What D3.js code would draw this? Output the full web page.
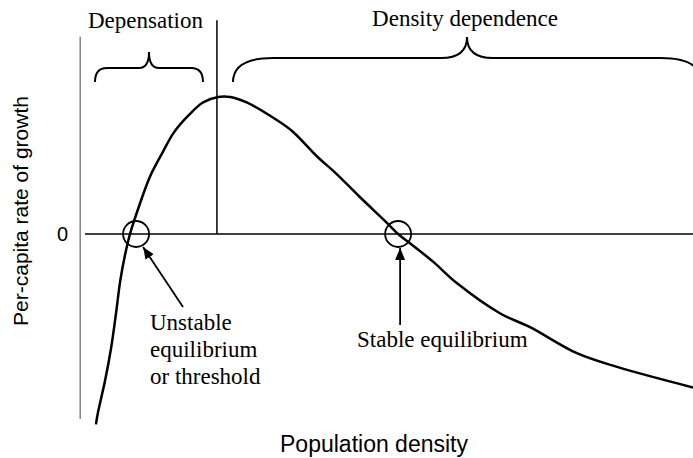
<!DOCTYPE html>
<html>
<head>
<meta charset="utf-8">
<script src="https://cdn.jsdelivr.net/npm/d3@7"></script>
<style>
  html, body { margin: 0; padding: 0; background: #fff; }
  svg { display: block; }
</style>
</head>
<body>
<svg id="chart" width="693" height="458"></svg>
<script>
// population density (arbitrary units)
const densityX = [0.18, 0.21, 0.33, 0.43, 0.51, 0.58, 0.66, 0.74, 0.91, 1.07, 1.27, 1.46, 1.69, 1.94,
  2.19, 2.39, 2.66, 3.16, 3.41, 3.83, 4.11, 4.52, 4.97, 5.15, 5.35, 5.72, 6.12, 6.83, 7.32, 8.09, 8.75, 10.0];
// per-capita growth rate (peak = 1)
const growthY = [-1.39, -1.31, -1.07, -0.83, -0.58, -0.34, -0.15, 0.0, 0.23, 0.42, 0.59, 0.74, 0.86, 0.96,
  1.0, 1.0, 0.96, 0.83, 0.75, 0.56, 0.45, 0.27, 0.08, 0.0, -0.07, -0.20, -0.36, -0.58, -0.68, -0.87, -0.97, -1.12];

const unstableEq = 0.84;   // circle around lower crossing
const stableEq = 5.15;
const peakDensity = 2.17;  // divides depensation / density dependence
const yTicks = [0];

const svgEl = document.getElementById('chart');
const svg = d3.select(svgEl);

const x = d3.scaleLinear().domain([0, 10]).range([85, 693]);
const y = d3.scaleLinear().domain([-1.4, 1.4]).range([425.8, 42.2]);

const serif = '"Liberation Serif", "Times New Roman", serif';
const sans = '"Liberation Sans", Arial, sans-serif';

svg.append('defs').append('marker')
    .attr('id', 'arrow')
    .attr('viewBox', '0 -5 12 10')
    .attr('refX', 12).attr('refY', 0)
    .attr('markerWidth', 12).attr('markerHeight', 10)
    .attr('markerUnits', 'userSpaceOnUse')
    .attr('orient', 'auto')
  .append('path')
    .attr('d', 'M0,-5L12,0L0,5Z')
    .attr('fill', '#000');

// y axis line
svg.append('line')
    .attr('x1', x(-0.08)).attr('x2', x(-0.08))
    .attr('y1', y(1.44)).attr('y2', y(-1.35))
    .attr('stroke', '#444').attr('stroke-width', 1);

// zero line
svg.append('line')
    .attr('x1', x(0)).attr('x2', x(10))
    .attr('y1', y(0)).attr('y2', y(0))
    .attr('stroke', '#000').attr('stroke-width', 1.5);

svg.selectAll('.ytick')
  .data(yTicks)
  .enter().append('text')
    .attr('class', 'ytick')
    .attr('x', 68).attr('y', d => y(d))
    .attr('dy', '0.36em')
    .attr('text-anchor', 'end')
    .attr('font-family', sans).attr('font-size', 20)
    .text(d => d);

// vertical divider at the peak
svg.append('line')
    .attr('x1', x(peakDensity)).attr('x2', x(peakDensity))
    .attr('y1', y(1.56)).attr('y2', y(0))
    .attr('stroke', '#000').attr('stroke-width', 1.5);

// growth curve
const pts = densityX.map((d, i) => [d, growthY[i]]);
svg.append('path')
    .datum(pts)
    .attr('d', d3.line().x(d => x(d[0])).y(d => y(d[1])).curve(d3.curveCatmullRom.alpha(0.5)))
    .attr('fill', 'none')
    .attr('stroke', '#000').attr('stroke-width', 2.5)
    .attr('stroke-linejoin', 'round');

// equilibrium circles
svg.selectAll('.eq')
  .data([unstableEq, stableEq])
  .enter().append('circle')
    .attr('class', 'eq')
    .attr('cx', d => x(d)).attr('cy', y(0))
    .attr('r', 13)
    .attr('fill', 'none')
    .attr('stroke', '#000').attr('stroke-width', 1.8);

// arrows
svg.append('line')
    .attr('x1', 183).attr('y1', 307)
    .attr('x2', x(unstableEq) + 7).attr('y2', y(0) + 13)
    .attr('stroke', '#000').attr('stroke-width', 1.8)
    .attr('marker-end', 'url(#arrow)');

svg.append('line')
    .attr('x1', x(stableEq) + 2).attr('y1', 325)
    .attr('x2', x(stableEq) + 2).attr('y2', y(0) + 14)
    .attr('stroke', '#000').attr('stroke-width', 1.8)
    .attr('marker-end', 'url(#arrow)');

// curly braces
function brace(x1, x2, yEnd, yMid, yTip, rx, rt) {
  const xc = (x1 + x2) / 2;
  return `M${x1},${yEnd} Q${x1},${yMid} ${x1 + rx},${yMid}` +
    ` L${xc - rt},${yMid} Q${xc},${yMid} ${xc},${yTip}` +
    ` Q${xc},${yMid} ${xc + rt},${yMid}` +
    ` L${x2 - rx},${yMid} Q${x2},${yMid} ${x2},${yEnd}`;
}

svg.append('path')
    .attr('d', brace(95, 203, 82, 68, 52, 12, 10))
    .attr('fill', 'none').attr('stroke', '#000').attr('stroke-width', 2);

svg.append('path')
    .attr('d', brace(233, 701, 82, 58, 37, 40, 26))
    .attr('fill', 'none').attr('stroke', '#000').attr('stroke-width', 2);

// labels
const serifText = (tx, ty, str, anchor) => svg.append('text')
    .attr('x', tx).attr('y', ty)
    .attr('text-anchor', anchor || 'start')
    .attr('font-family', serif).attr('font-size', 23)
    .text(str);

serifText(88, 28, 'Depensation');
serifText(465, 26, 'Density dependence', 'middle');
serifText(150, 330, 'Unstable');
serifText(150, 357, 'equilibrium');
serifText(150, 384, 'or threshold');
serifText(357, 347, 'Stable equilibrium');

svg.append('text')
    .attr('x', 374).attr('y', 452)
    .attr('text-anchor', 'middle')
    .attr('font-family', sans).attr('font-size', 23)
    .text('Population density');

svg.append('text')
    .attr('transform', 'translate(28,211) rotate(-90)')
    .attr('text-anchor', 'middle')
    .attr('font-family', sans).attr('font-size', 21)
    .text('Per-capita rate of growth');
</script>
</body>
</html>
